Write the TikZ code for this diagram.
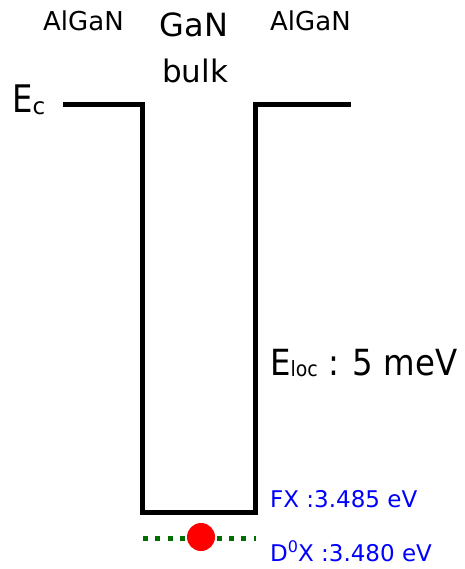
\documentclass[tikz,border=0pt]{standalone}
\usepackage{fontspec}
\setmainfont{DejaVu Sans}
\newcommand\fsz[1]{\fontsize{#1}{#1}\selectfont}
\definecolor{dgreen}{RGB}{0,110,0}
\begin{document}
\begin{tikzpicture}[x=1pt,y=-1pt,
  wall/.style={line width=5pt,black,line join=miter},
  dotline/.style={line width=5pt,dgreen,dash pattern=on 5pt off 7.3pt},
  lbl/.style={inner sep=0pt,anchor=base west},
  bluelbl/.style={lbl,text=blue}]
\useasboundingbox (0,0) rectangle (464,569);
\coordinate (tl) at (63,105);
\coordinate (a) at (142,105);
\coordinate (b) at (142,512);
\coordinate (c) at (255,512);
\coordinate (d) at (255,105);
\coordinate (tr) at (351,105);
\draw[wall] (tl) -- (a) -- (b) -- (c) -- (d) -- (tr);
\coordinate (gl) at (143,538);
\coordinate (gr) at (256,538);
\draw[dotline] (gl) -- (gr);
\node[circle,fill=red,minimum size=28pt,inner sep=0pt] (dot) at (201,537) {};
\node[lbl,font=\fsz{26}] (al1) at (43,31) {AlGaN};
\node[lbl,font=\fsz{26}] (al2) at (270,31) {AlGaN};
\node[inner sep=0pt,anchor=base,font=\fsz{32}] (gan) at (194,37) {GaN};
\node[inner sep=0pt,anchor=base,font=\fsz{31}] (bulk) at (195,83) {bulk};
\node[lbl,font=\fsz{38}] (ec) at (12,113) {\scalebox{0.85}[1]{E}\raisebox{-2pt}{\fsz{23}c}};
\node[lbl,font=\fsz{36}] (eloc) at (270,375) {\scalebox{0.9}[1]{E\raisebox{-1pt}{\fsz{21}loc} : 5 meV}};
\node[bluelbl,font=\fsz{23}] (fx) at (270,507) {FX :3.485 eV};
\node[bluelbl,font=\fsz{23}] (dx) at (270,561) {D\raisebox{9pt}{\fsz{16}0}X :3.480 eV};
\end{tikzpicture}
\end{document}
